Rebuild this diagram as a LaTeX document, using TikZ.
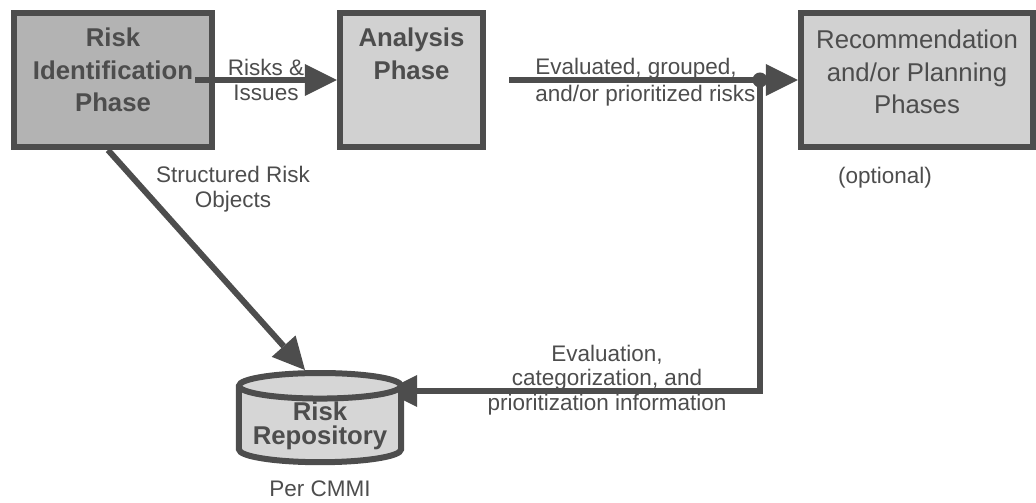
\documentclass[tikz,border=0pt]{standalone}
\usepackage{fontspec}
\setmainfont{Liberation Sans}
\usetikzlibrary{arrows.meta,positioning,shapes.geometric}
\definecolor{ink}{HTML}{4D4D4D}
\definecolor{idgray}{HTML}{B3B3B3}
\definecolor{phasegray}{HTML}{D1D1D1}
\definecolor{repogray}{HTML}{D6D6D6}
\pgfdeclarelayer{front}
\pgfsetlayers{main,front}
\tikzset{
        phase/.style={draw=ink, line width=0.15cm, fill=phasegray, minimum height=3.35cm, inner sep=0pt},
        boxtext/.style={text=ink, align=center, inner sep=0pt, font=\fontsize{18.3}{23}\selectfont},
        boxbold/.style={boxtext, font=\bfseries\fontsize{18.3}{23}\selectfont},
        lbl/.style={text=ink, align=center, inner sep=0pt, font=\fontsize{16}{17.5}\selectfont},
        flow/.style={draw=ink, line width=0.15cm, -{Triangle[length=0.8cm, width=0.8cm, line width=0pt]}},
        store/.style={cylinder, shape border rotate=90, aspect=0.19, draw=ink, line width=0.15cm, fill=repogray,
          minimum width=4.05cm, minimum height=2.175cm, inner sep=0pt, text=ink, align=center,
          font=\bfseries\fontsize{18.3}{17}\selectfont},
        junction/.style={circle, fill=ink, inner sep=0pt, minimum size=0.375cm}
          }

\begin{document}
\begin{tikzpicture}[x=0.025cm, y=-0.025cm]
        \useasboundingbox (0,0) rectangle (1036,503);
        % phases
        \node[phase, fill=idgray, minimum width=4.95cm] (ident) at (113,80) {};
        \node[boxbold, below=0.45cm of ident.north] (identtext) {Risk\\Identification\\Phase};
        \node[phase, minimum width=3.575cm] (analysis) at (411.5,80) {};
        \node[boxbold, below=0.45cm of analysis.north] (analysistext) {Analysis\\Phase};
        \node[phase, minimum width=5.8cm] (recom) at (917,80) {};
        \node[boxtext, below=0.5cm of recom.north] (recomtext) {Recommendation\\and/or Planning\\Phases};
        \node[lbl] (optional) at (885,178) {(optional)};
        % repository, kept on top of the arrow heads
        \begin{pgfonlayer}{front}
          \node[store] (repo) at (320,425.5) {Risk\\Repository};
        \end{pgfonlayer}
        \node[lbl, below=0.38cm of repo.south] (cmmi) {Per CMMI};
        \node[junction] (split) at (760,80) {};
        \coordinate (corner) at (760,391);
        % flows
        \draw[flow, shorten <=-0.5cm] (ident.east) -- (analysis.west)
          node[lbl, midway, xshift=-0.25cm, font=\fontsize{16}{18}\selectfont] (risks) {Risks \&\\Issues};
        \draw[ink, line width=0.15cm, shorten <=0.575cm] (analysis.east) -- (split.center);
        \draw[flow] (split) -- (recom.west);
        \draw[flow, shorten >=1.625cm] (split.center) -- (corner) -- (corner -| repo.center);
        \draw[flow] ([xshift=-0.125cm]ident.south) -- ([xshift=-0.375cm]repo.north);
        % labels
        \node[lbl] (structured) at (233,189) {Structured Risk\\Objects};
        \node[lbl, align=left, anchor=west, font=\fontsize{16}{19}\selectfont] (evaluated) at (535,82)
          {Evaluated, grouped,\\and/or prioritized risks};
        \node[lbl] (info) at (607,380) {Evaluation,\\categorization, and\\prioritization information};
\end{tikzpicture}
\end{document}
